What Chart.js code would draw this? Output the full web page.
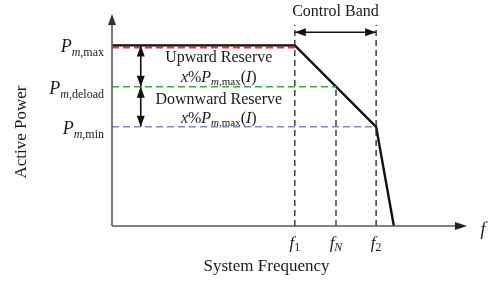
<!DOCTYPE html>
<html>
<head>
<meta charset="utf-8">
<script src="https://cdn.jsdelivr.net/npm/chart.js@4/dist/chart.umd.min.js"></script>
<style>
  body { margin: 0; background: #fff; }
  #wrap { width: 493px; height: 283px; position: relative; }
</style>
</head>
<body>
<div id="wrap"><canvas id="myChart"></canvas></div>
<script>
// frequency positions (arbitrary units, axis runs 0..10)
const fKeys = ["f1", "fN", "f2"];
const fValues = [5.15, 6.31, 7.44];
const fCut = 7.94;          // where output drops to zero
// power levels (axis runs 0..10)
const powerKeys = ["max", "deload", "min"];
const powerValues = [8.52, 6.57, 4.68];
const pMaxRef = 8.42;       // red reference dash, just under the curve
const bandY = 9.14;         // control band arrow height
const guideTop = 9.48;      // top of f1 / f2 dashed guides
const reserveX = 0.81;      // up / down reserve arrows
const xMax = 10, yMax = 10;

const [f1, fN, f2] = fValues;
const [pMax, pDeload, pMin] = powerValues;

const serif = '"Liberation Serif", "Times New Roman", serif';

function seg(pts, color, width, dash) {
    return {
        data: pts.map(p => ({ x: p[0], y: p[1] })),
        showLine: true,
        borderColor: color,
        borderWidth: width,
        borderDash: dash || [],
        pointRadius: 0,
        fill: false,
        clip: false,
    };
}

const datasets = [
    // axes
    seg([[0, 0], [0, yMax - 0.4]], "#595959", 1.6),
    seg([[0, 0], [xMax - 0.3, 0]], "#595959", 1.6),
    // guides
    seg([[f1, 0], [f1, guideTop]], "#222", 1.3, [6, 4]),
    seg([[fN, 0], [fN, pDeload]], "#222", 1.3, [6, 4]),
    seg([[f2, 0], [f2, guideTop]], "#222", 1.3, [6, 4]),
    // reserve levels
    seg([[0, pMin], [f2, pMin]], "#6f8fca", 1.6, [7, 4]),
    seg([[0, pDeload], [fN, pDeload]], "#3aaa35", 1.6, [7, 4]),
    seg([[0, pMax], [f1, pMax], [f2, pMin], [fCut, 0]], "#111", 2.4),
    seg([[0, pMaxRef], [f1, pMaxRef]], "#e8332a", 1.8, [7, 4]),
    // arrows shafts
    seg([[f1, bandY], [f2, bandY]], "#111", 1.5),
    seg([[reserveX, pMax], [reserveX, pDeload]], "#111", 1.6),
    seg([[reserveX, pDeload], [reserveX, pMin]], "#111", 1.6),
];

// arrowheads: [x, y, direction, length, width, colour]
const heads = [
    [0, yMax, "up", 11, 8, "#333"],
    [xMax, 0, "right", 12, 8, "#222"],
    [f1, bandY, "left", 11, 8, "#111"],
    [f2, bandY, "right", 11, 8, "#111"],
    [reserveX, pMax, "up", 11, 8, "#111"],
    [reserveX, pDeload, "down", 11, 8, "#111"],
    [reserveX, pDeload, "up", 11, 8, "#111"],
    [reserveX, pMin, "down", 11, 8, "#111"],
];

function rich(ctx, x, y, parts, align) {
    let w = 0;
    parts.forEach(p => { ctx.font = p.f; w += ctx.measureText(p.t).width; });
    let cx = align === "right" ? x - w : align === "center" ? x - w / 2 : x;
    parts.forEach(p => {
        ctx.font = p.f;
        ctx.fillText(p.t, cx, y + (p.dy || 0));
        cx += ctx.measureText(p.t).width;
    });
}

const it = s => "italic " + s + "px " + serif;
const rm = s => s + "px " + serif;

function pLabel(sub) {
    return [
        { t: "P", f: it(18) },
        { t: "m", f: it(12), dy: 4 },
        { t: "," + sub, f: rm(12), dy: 4 },
    ];
}
const reserveFormula = [
    { t: "x", f: it(16) },
    { t: "%", f: rm(16) },
    { t: "P", f: it(16) },
    { t: "m", f: it(11), dy: 3 },
    { t: ",max", f: rm(11), dy: 3 },
    { t: "(", f: rm(16) },
    { t: "I", f: it(16) },
    { t: ")", f: rm(16) },
];
const fSubs = [["1", rm(12)], ["N", it(12)], ["2", rm(12)]];

const decor = {
    id: "decor",
    afterDatasetsDraw(chart) {
        const ctx = chart.ctx;
        const xs = chart.scales.x, ys = chart.scales.y;
        ctx.save();
        heads.forEach(([vx, vy, dir, len, wid, col]) => {
            const px = xs.getPixelForValue(vx), py = ys.getPixelForValue(vy);
            ctx.fillStyle = col;
            ctx.beginPath();
            ctx.moveTo(px, py);
            if (dir === "up") { ctx.lineTo(px - wid / 2, py + len); ctx.lineTo(px + wid / 2, py + len); }
            if (dir === "down") { ctx.lineTo(px - wid / 2, py - len); ctx.lineTo(px + wid / 2, py - len); }
            if (dir === "left") { ctx.lineTo(px + len, py - wid / 2); ctx.lineTo(px + len, py + wid / 2); }
            if (dir === "right") { ctx.lineTo(px - len, py - wid / 2); ctx.lineTo(px - len, py + wid / 2); }
            ctx.closePath();
            ctx.fill();
        });

        ctx.fillStyle = "#1a1a1a";
        ctx.textBaseline = "alphabetic";
        const x0 = xs.getPixelForValue(0);
        // power level labels
        powerKeys.forEach((k, i) => {
            rich(ctx, x0 - 8, ys.getPixelForValue(powerValues[i]) + 7, pLabel(k), "right");
        });
        // frequency labels
        fValues.forEach((v, i) => {
            rich(ctx, xs.getPixelForValue(v), ys.getPixelForValue(0) + 22,
                [{ t: "f", f: it(17) }, { t: fSubs[i][0], f: fSubs[i][1], dy: 3 }], "center");
        });
        rich(ctx, xs.getPixelForValue(xMax) + 16, ys.getPixelForValue(0) + 9, [{ t: "f", f: it(18) }], "center");

        // reserve text
        const midX = (xs.getPixelForValue(reserveX) + xs.getPixelForValue(f1)) / 2 + 1;
        ctx.textAlign = "left";
        rich(ctx, midX, ys.getPixelForValue(pMax) + 17, [{ t: "Upward Reserve", f: rm(16) }], "center");
        rich(ctx, midX, ys.getPixelForValue(pMax) + 37, reserveFormula, "center");
        rich(ctx, midX, ys.getPixelForValue(pDeload) + 17, [{ t: "Downward Reserve", f: rm(16) }], "center");
        rich(ctx, midX, ys.getPixelForValue(pDeload) + 36, reserveFormula, "center");

        // control band
        rich(ctx, (xs.getPixelForValue(f1) + xs.getPixelForValue(f2)) / 2, ys.getPixelForValue(bandY) - 16,
            [{ t: "Control Band", f: rm(16) }], "center");

        // axis titles
        rich(ctx, (x0 + xs.getPixelForValue(xMax)) / 2 - 23, ys.getPixelForValue(0) + 45,
            [{ t: "System Frequency", f: rm(17) }], "center");
        ctx.translate(26, (ys.getPixelForValue(0) + ys.getPixelForValue(yMax)) / 2 + 12);
        ctx.rotate(-Math.PI / 2);
        rich(ctx, 0, 0, [{ t: "Active Power", f: rm(17) }], "center");
        ctx.restore();
    }
};

const config = {
    type: "scatter",
    data: { datasets },
    options: {
        responsive: true,
        maintainAspectRatio: false,
        animation: false,
        layout: { padding: { left: 112, right: 26, top: 14, bottom: 57 } },
        plugins: { legend: { display: false }, tooltip: { enabled: false } },
        scales: {
            x: { type: "linear", min: 0, max: xMax, display: false },
            y: { type: "linear", min: 0, max: yMax, display: false },
        },
    },
    plugins: [decor],
};

const myChart = new Chart(document.getElementById("myChart").getContext("2d"), config);
</script>
</body>
</html>
